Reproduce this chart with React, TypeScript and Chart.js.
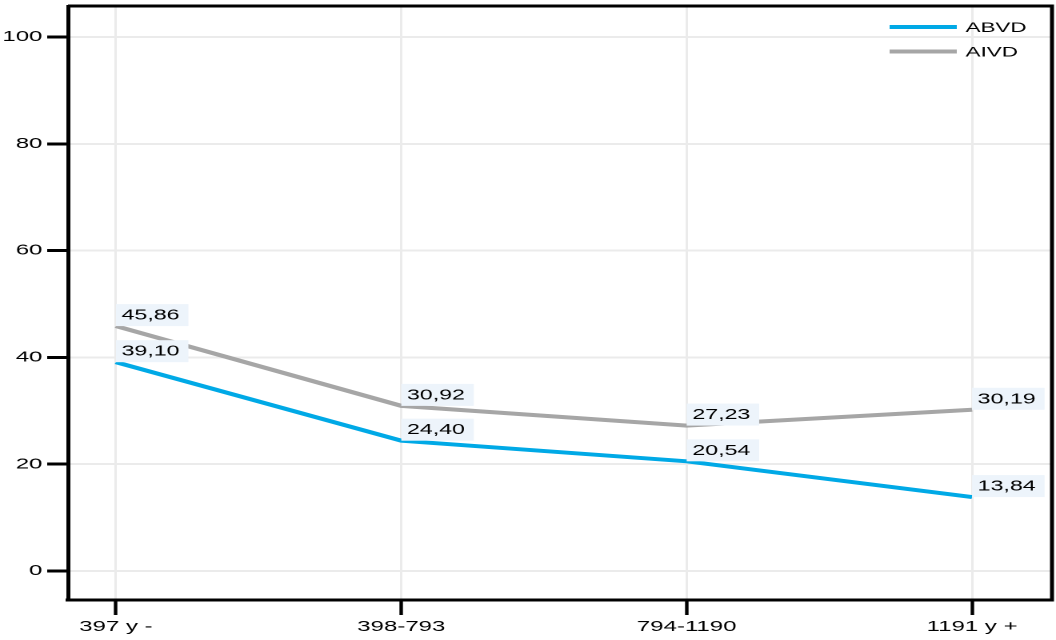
import React, { useEffect, useRef } from 'react';
import { Chart, registerables } from 'chart.js';

Chart.register(...registerables);

const categories = ['397 y -', '398-793', '794-1190', '1191 y +'];
const abvdValues = [39.1, 24.4, 20.54, 13.84];
const aivdValues = [45.86, 30.92, 27.23, 30.19];
const yTickValues = [0, 20, 40, 60, 80, 100];
const seriesNames = ['ABVD', 'AIVD'];
const seriesColors = ['#00a9e6', '#a6a6a6'];

const SX = 1.6;
const W = 660;
const H = 640;
const FONT = "'Liberation Sans', Arial, sans-serif";

const fmt = (v: number) => v.toFixed(2).replace('.', ',');

const framePlugin = {
  id: 'frame',
  beforeDatasetsDraw(chart: any) {
    const { ctx, chartArea: a } = chart;
    ctx.save();
    ctx.strokeStyle = '#000';
    ctx.lineWidth = 3;
    ctx.beginPath();
    ctx.moveTo(a.left, a.top);
    ctx.lineTo(a.right, a.top);
    ctx.stroke();
    ctx.lineWidth = 2.5;
    ctx.beginPath();
    ctx.moveTo(a.right, a.top - 1.5);
    ctx.lineTo(a.right, a.bottom + 1.5);
    ctx.stroke();
    ctx.restore();
  },
};

const labelPlugin = {
  id: 'valueLabels',
  afterDatasetsDraw(chart: any) {
    const { ctx } = chart;
    ctx.save();
    ctx.font = `14.5px ${FONT}`;
    ctx.textBaseline = 'middle';
    ctx.textAlign = 'left';
    chart.data.datasets.forEach((ds: any, di: number) => {
      const meta = chart.getDatasetMeta(di);
      meta.data.forEach((pt: any, i: number) => {
        const txt = fmt(ds.data[i].y);
        const tw = ctx.measureText(txt).width;
        const bw = tw + 9;
        const bh = 22;
        ctx.fillStyle = '#edf4fb';
        ctx.fillRect(pt.x, pt.y - bh, bw, bh);
        ctx.fillStyle = '#000';
        ctx.fillText(txt, pt.x + 3.5, pt.y - bh / 2 + 0.5);
      });
    });
    ctx.restore();
  },
};

const legendPlugin = {
  id: 'customLegend',
  afterDraw(chart: any) {
    const { ctx } = chart;
    ctx.save();
    ctx.font = `14px ${FONT}`;
    ctx.textBaseline = 'middle';
    ctx.textAlign = 'left';
    const ys = [27, 51.5];
    seriesNames.forEach((name, i) => {
      ctx.strokeStyle = seriesColors[i];
      ctx.lineWidth = 4;
      ctx.beginPath();
      ctx.moveTo(556, ys[i]);
      ctx.lineTo(598, ys[i]);
      ctx.stroke();
      ctx.fillStyle = '#000';
      ctx.fillText(name, 603.5, ys[i] + 1);
    });
    ctx.restore();
  },
};

export default function App() {
  const ref = useRef<HTMLCanvasElement>(null);
  useEffect(() => {
    const toPoints = (arr: number[]) => arr.map((v, i) => ({ x: i, y: v }));
    const chart = new Chart(ref.current as HTMLCanvasElement, {
      type: 'line',
      data: {
        datasets: [
          {
            label: seriesNames[0],
            data: toPoints(abvdValues),
            borderColor: seriesColors[0],
            backgroundColor: seriesColors[0],
            borderWidth: 4,
            pointRadius: 0,
            tension: 0,
          },
          {
            label: seriesNames[1],
            data: toPoints(aivdValues),
            borderColor: seriesColors[1],
            backgroundColor: seriesColors[1],
            borderWidth: 4,
            pointRadius: 0,
            tension: 0,
          },
        ],
      },
      options: {
        animation: false,
        responsive: false,
        devicePixelRatio: 2,
        layout: { padding: { top: 6, right: 2.5, left: 0, bottom: 0 } },
        plugins: {
          legend: { display: false },
          tooltip: { enabled: false },
        },
        scales: {
          x: {
            type: 'linear',
            min: -0.168,
            max: 3.28,
            afterBuildTicks: (s: any) => {
              s.ticks = categories.map((_, i) => ({ value: i }));
            },
            afterFit: (s: any) => {
              s.height = 40;
              s.paddingLeft = 0;
              s.paddingRight = 0;
              s.paddingTop = 0;
              s.paddingBottom = 0;
            },
            grid: {
              color: '#ebebeb',
              lineWidth: 1.5,
              drawTicks: true,
              tickLength: 15,
              tickColor: '#000',
              tickWidth: 2.2,
            },
            border: { display: true, color: '#000', width: 3 },
            ticks: {
              autoSkip: false,
              maxRotation: 0,
              padding: 3,
              color: '#000',
              font: { family: FONT, size: 15 },
              callback: (v: any) => categories[Math.round(Number(v))] ?? '',
            },
          },
          y: {
            type: 'linear',
            min: -5.43,
            max: 105.8,
            afterBuildTicks: (s: any) => {
              s.ticks = yTickValues.map((v) => ({ value: v }));
            },
            afterFit: (s: any) => {
              s.width = 42.5;
              s.paddingLeft = 0;
              s.paddingRight = 0;
              s.paddingTop = 0;
              s.paddingBottom = 0;
            },
            grid: {
              color: '#ebebeb',
              lineWidth: 2,
              drawTicks: true,
              tickLength: 13,
              tickColor: '#000',
              tickWidth: 3,
            },
            border: { display: true, color: '#000', width: 2.5 },
            ticks: {
              padding: 3,
              color: '#000',
              font: { family: FONT, size: 15 },
              callback: (v: any) => String(v),
            },
          },
        },
      },
      plugins: [framePlugin, labelPlugin, legendPlugin],
    });
    return () => chart.destroy();
  }, []);

  return (
    <div
      style={{
        position: 'absolute',
        left: 0,
        top: 0,
        width: W,
        height: H,
        transform: `scaleX(${SX})`,
        transformOrigin: '0 0',
      }}
    >
      <canvas ref={ref} width={W} height={H} />
    </div>
  );
}
